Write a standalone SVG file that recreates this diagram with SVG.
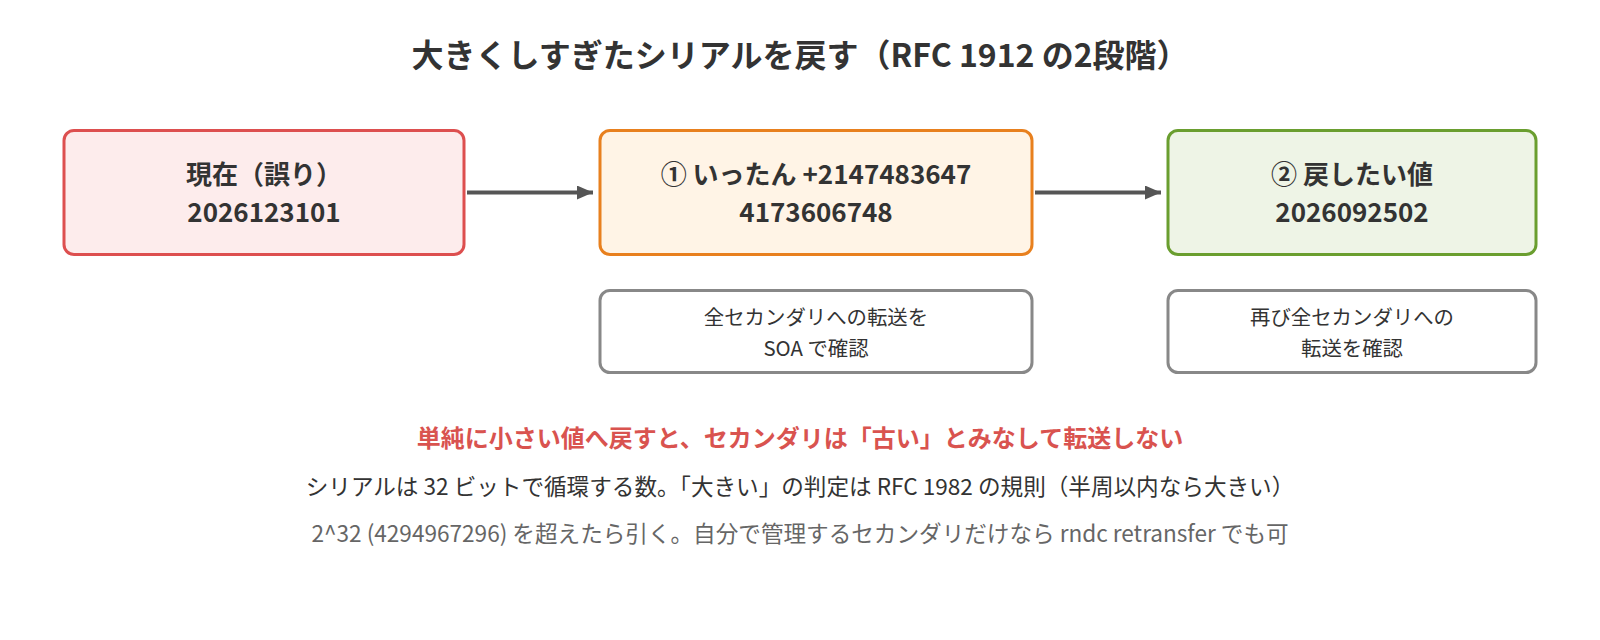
<svg xmlns="http://www.w3.org/2000/svg" width="1600" height="640" viewBox="0 0 1600 640">
<style>
text{font-family:"Noto Sans CJK JP","Noto Sans",sans-serif;text-anchor:middle;fill:#333}
.title{font-size:32px;font-weight:700}
.nt{font-size:26px;font-weight:700}
.st{font-size:20.4px}
.red{font-size:24px;font-weight:700;fill:#d9534f}
.bk{font-size:22.6px;fill:#333}
.gr{font-size:22.6px;fill:#666}
.conn{stroke:#555;stroke-width:4;fill:none}
.sub{fill:#fff;stroke:#888;stroke-width:3}
</style>
<defs>
<marker id="ah" viewBox="0 0 16 14" refX="16" refY="7" markerWidth="16" markerHeight="14" markerUnits="userSpaceOnUse" orient="auto">
<path d="M0,0 L16,7 L0,14 Z" fill="#555"/>
</marker>
</defs>
<rect width="1600" height="640" fill="#fff"/>
<text class="title" x="800" y="67">大きくしすぎたシリアルを戻す（RFC 1912 の2段階）</text>
<g id="connectors">
<line class="conn" x1="467" y1="192.5" x2="593" y2="192.5" marker-end="url(#ah)"/>
<line class="conn" x1="1035" y1="192.5" x2="1161" y2="192.5" marker-end="url(#ah)"/>
</g>
<g id="node-current">
<rect x="64" y="130.5" width="400" height="124" rx="10" fill="#fdecec" stroke="#dd4f4f" stroke-width="3"/>
<text class="nt" x="264" y="184">現在（誤り）</text>
<text class="nt" x="264" y="222">2026123101</text>
</g>
<g id="node-step1">
<rect x="600" y="130.5" width="432" height="124" rx="10" fill="#fff4e6" stroke="#e8801e" stroke-width="3"/>
<text class="nt" x="816" y="184">① いったん +2147483647</text>
<text class="nt" x="816" y="222">4173606748</text>
</g>
<g id="node-step2">
<rect x="1168" y="130.5" width="368" height="124" rx="10" fill="#eef4e6" stroke="#6a9e2f" stroke-width="3"/>
<text class="nt" x="1352" y="184">② 戻したい値</text>
<text class="nt" x="1352" y="222">2026092502</text>
</g>
<g id="note-step1">
<rect class="sub" x="600" y="290.5" width="432" height="82" rx="10"/>
<text class="st" x="816" y="325">全セカンダリへの転送を</text>
<text class="st" x="816" y="356">SOA で確認</text>
</g>
<g id="note-step2">
<rect class="sub" x="1168" y="290.5" width="368" height="82" rx="10"/>
<text class="st" x="1352" y="325">再び全セカンダリへの</text>
<text class="st" x="1352" y="356">転送を確認</text>
</g>
<text class="red" x="800" y="447">単純に小さい値へ戻すと、セカンダリは「古い」とみなして転送しない</text>
<text class="bk" x="800" y="495">シリアルは 32 ビットで循環する数。「大きい」の判定は RFC 1982 の規則（半周以内なら大きい）</text>
<text class="gr" x="800" y="542">2^32 (4294967296) を超えたら引く。自分で管理するセカンダリだけなら rndc retransfer でも可</text>
</svg>
